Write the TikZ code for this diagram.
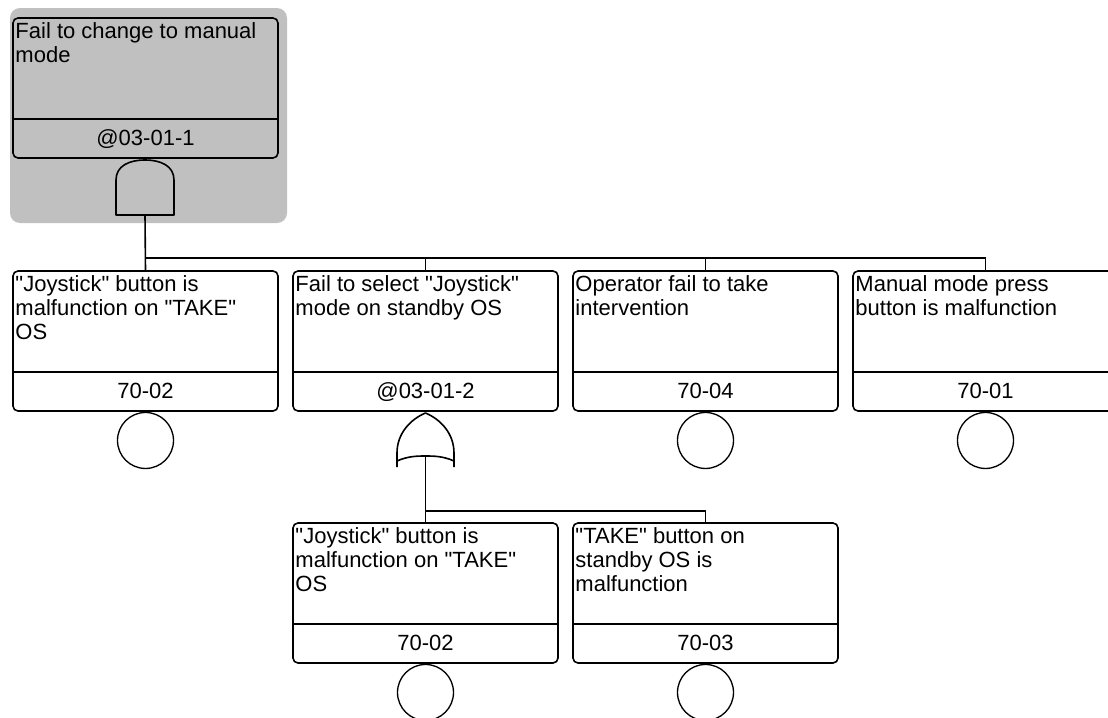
\documentclass[tikz,border=0pt]{standalone}
\usepackage{fontspec}
\setmainfont{Liberation Sans}[Ligatures=TeXOff]
\usetikzlibrary{positioning}
\definecolor{topgray}{RGB}{192,192,192}
\tikzset{evbox/.style={draw,line width=1.2pt,rounded corners=3.75pt,fill=white,
        minimum width=198.75pt,minimum height=105pt,inner sep=0pt},
    evline/.style={draw,line width=1.2pt},
    evtext/.style={inner sep=0pt,align=left,font=\fontsize{16.5}{18}\selectfont},
    evid/.style={inner sep=0pt,anchor=base,font=\fontsize{16.5}{18}\selectfont},
    basicev/.style={draw,circle,line width=1pt,fill=white,minimum size=42pt,inner sep=0pt},
    gate/.style={draw,line width=1.2pt,line join=round},
    conn/.style={draw,line width=1.2pt}}
% one event box: name, x, y, description, id
\newcommand{\evbox}[6][evbox]{%
    \node[#1] (#2) at (#3,#4) {};
    \draw[evline] ([yshift=30pt]#2.south west) -- ([yshift=30pt]#2.south east);
    \node[evtext,anchor=north west] (#2-t) at ([xshift=2.25pt,yshift=-3.75pt]#2.north west) {#5};
    \node[evid] (#2-id) at ([yshift=9.75pt]#2.south) {#6};
}

\begin{document}
\begin{tikzpicture}[x=0.75pt,y=-0.75pt]
    \clip (0,0) rectangle (1108,718);
    \fill[white] (0,0) rectangle (1108,718);

    % Top event with its gray frame
    \fill[topgray, rounded corners=7.5pt] (10,8) rectangle (287,223);
    \evbox[evbox,fill=none]{te}{145.5}{88}{Fail to change to manual\\mode}{@03-01-1}

    % AND gate below the top event
    \draw[gate] (116,215) -- (116,180) .. controls (116,166) and (129,160) .. (145,160)
        .. controls (161,160) and (174,166) .. (174,180) -- (174,215) -- cycle;
    \coordinate (and1) at (145,215);
    \coordinate (bus1) at (145,258);

    % First level events
    \evbox{e1}{145.5}{341}{"Joystick" button is\\malfunction on "TAKE"\\OS}{70-02}
    \evbox{e2}{425.5}{341}{Fail to select "Joystick"\\mode on standby OS}{@03-01-2}
    \evbox{e3}{705.5}{341}{Operator fail to take\\intervention}{70-04}
    \evbox{e4}{985.5}{341}{Manual mode press\\button is malfunction}{70-01}

    \node[basicev, below=0pt of e1] (b1) {};
    \node[basicev, below=0pt of e3] (b3) {};
    \node[basicev, below=0pt of e4] (b4) {};

    \draw[conn] (and1) -- (e1.north);
    \draw[conn] (bus1) -| (e4.north);
    \draw[conn] (e2.north |- bus1) -- (e2.north);
    \draw[conn] (e3.north |- bus1) -- (e3.north);

    % OR gate below the intermediate event
    \draw[gate] (397,467) -- (397,453) .. controls (397,433) and (411,419) .. (425.5,413)
        .. controls (440,419) and (454,433) .. (454,453) -- (454,467);
    \draw[gate] (397,461) .. controls (408,456) and (418,456) .. (425.5,456)
        .. controls (433,456) and (443,456) .. (454,461);
    \coordinate (or1) at (425.5,456);
    \coordinate (bus2) at (425.5,511);

    % Second level events
    \evbox{e5}{425.5}{593}{"Joystick" button is\\malfunction on "TAKE"\\OS}{70-02}
    \evbox{e6}{705.5}{593}{"TAKE" button on\\standby OS is\\malfunction}{70-03}

    \node[basicev, below=0pt of e5] (b5) {};
    \node[basicev, below=0pt of e6] (b6) {};

    \draw[conn] (or1) -- (e5.north);
    \draw[conn] (bus2) -| (e6.north);
\end{tikzpicture}
\end{document}
